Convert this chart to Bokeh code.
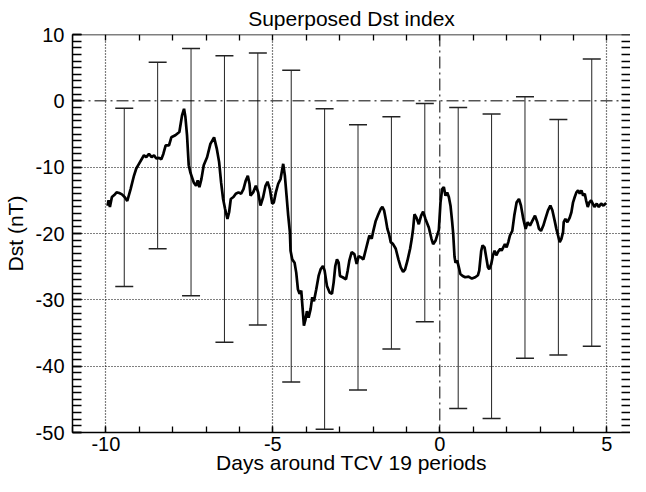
from bokeh.plotting import figure
from bokeh.models import (ColumnDataSource, Whisker, TeeHead, Span, LinearAxis,
                          FixedTicker, Range1d)
from bokeh.embed import file_html
from bokeh.resources import INLINE

# ---- data ----
days = [-9.95, -9.92, -9.88, -9.82, -9.75, -9.68, -9.60, -9.52, -9.44, -9.36,
        -9.26, -9.16, -9.09, -9.01, -8.93, -8.86, -8.79, -8.71, -8.63, -8.56,
        -8.49, -8.41, -8.34, -8.28, -8.21, -8.11, -8.04, -7.92, -7.80, -7.72,
        -7.66, -7.62, -7.57, -7.52, -7.47, -7.37, -7.30, -7.25, -7.20, -7.14,
        -7.07, -6.97, -6.87, -6.76, -6.68, -6.61, -6.55, -6.49, -6.43, -6.36,
        -6.31, -6.26, -6.18, -6.11, -6.03, -5.95, -5.88, -5.81, -5.75, -5.70,
        -5.67, -5.59, -5.51, -5.44, -5.37, -5.29, -5.22, -5.16, -5.09, -5.02,
        -4.97, -4.91, -4.84, -4.77, -4.69, -4.64, -4.59, -4.54, -4.49, -4.47,
        -4.42, -4.35, -4.30, -4.25, -4.20, -4.15, -4.10, -4.07, -4.02, -3.98,
        -3.93, -3.87, -3.82, -3.77, -3.70, -3.63, -3.57, -3.50, -3.45, -3.38,
        -3.30, -3.23, -3.18, -3.13, -3.08, -3.03, -2.99, -2.91, -2.81, -2.76,
        -2.71, -2.64, -2.56, -2.49, -2.43, -2.36, -2.29, -2.21, -2.16, -2.11,
        -2.04, -2.00, -1.92, -1.84, -1.77, -1.72, -1.67, -1.62, -1.57, -1.52,
        -1.47, -1.40, -1.32, -1.24, -1.17, -1.10, -1.04, -0.97, -0.89, -0.84,
        -0.80, -0.76, -0.70, -0.63, -0.56, -0.50, -0.43, -0.33, -0.25, -0.20,
        -0.13, -0.08, -0.03, 0.02, 0.07, 0.12, 0.17, 0.22, 0.27, 0.32,
        0.37, 0.40, 0.44, 0.47, 0.52, 0.57, 0.615, 0.685, 0.76, 0.86,
        0.96, 1.06, 1.14, 1.18, 1.21, 1.24, 1.28, 1.34, 1.39, 1.44,
        1.48, 1.54, 1.59, 1.64, 1.69, 1.74, 1.81, 1.85, 1.90, 1.95,
        2.00, 2.05, 2.10, 2.17, 2.23, 2.30, 2.37, 2.43, 2.50, 2.57,
        2.63, 2.70, 2.77, 2.85, 2.92, 2.97, 3.03, 3.10, 3.16, 3.24,
        3.31, 3.37, 3.44, 3.49, 3.54, 3.59, 3.64, 3.69, 3.71, 3.76,
        3.82, 3.89, 3.94, 3.99, 4.04, 4.09, 4.14, 4.19, 4.24, 4.29,
        4.34, 4.38, 4.43, 4.48, 4.53, 4.58, 4.63, 4.70, 4.76, 4.83,
        4.90, 4.98]
dst = [-15.8, -15.0, -16.0, -14.5, -14.2, -13.8, -13.9, -14.1, -14.5, -15.1,
       -13.3, -11.3, -10.2, -9.5, -8.8, -8.2, -8.5, -8.0, -8.5, -8.2,
       -8.7, -8.6, -8.8, -8.0, -6.7, -6.7, -5.5, -5.2, -4.7, -2.2,
       -1.2, -2.4, -5.2, -9.7, -10.8, -12.3, -12.8, -12.0, -13.0, -11.8,
       -9.7, -8.5, -6.5, -5.5, -7.2, -9.2, -12.3, -14.8, -16.3, -17.8,
       -16.8, -14.8, -14.5, -14.0, -13.8, -14.0, -13.3, -12.0, -11.3, -12.5,
       -14.3, -13.8, -12.8, -13.8, -15.8, -14.5, -12.8, -12.2, -13.3, -15.5,
       -15.3, -13.8, -12.5, -11.8, -9.5, -11.3, -14.3, -17.3, -19.8, -22.6,
       -23.9, -24.4, -25.9, -28.4, -29.1, -28.6, -31.9, -33.9, -32.9, -31.7,
       -32.7, -31.4, -29.6, -30.2, -28.4, -26.4, -25.4, -24.9, -25.6, -27.9,
       -28.9, -29.1, -27.4, -24.9, -23.9, -24.4, -26.4, -26.6, -26.9, -25.6,
       -24.1, -22.8, -23.1, -24.6, -23.4, -23.6, -23.9, -22.3, -21.3, -20.3,
       -20.8, -19.8, -18.1, -17.1, -16.3, -16.0, -16.5, -17.8, -19.3, -20.1,
       -21.3, -21.6, -22.3, -23.9, -25.1, -25.8, -25.4, -24.1, -22.3, -20.8,
       -19.3, -17.1, -17.6, -18.6, -17.3, -16.7, -17.8, -19.1, -20.8, -21.6,
       -21.1, -20.3, -19.5, -15.3, -13.3, -13.0, -14.3, -13.8, -14.5, -15.8,
       -18.3, -20.0, -23.5, -24.4, -24.1, -25.1, -26.1, -26.4, -26.6, -26.5,
       -26.8, -26.6, -26.3, -25.6, -24.1, -22.6, -21.8, -22.1, -23.6, -25.1,
       -25.4, -24.6, -23.3, -22.6, -23.3, -22.8, -22.3, -22.6, -22.1, -21.6,
       -22.1, -21.3, -20.3, -19.6, -17.3, -15.3, -14.8, -15.8, -17.8, -19.3,
       -18.3, -18.8, -18.1, -17.3, -18.3, -19.3, -19.6, -18.8, -17.8, -16.5,
       -15.8, -16.5, -18.1, -19.3, -20.3, -21.3, -20.8, -19.8, -18.3, -17.8,
       -18.3, -17.6, -16.8, -15.3, -14.5, -13.8, -13.5, -14.0, -13.5, -14.3,
       -14.0, -15.0, -16.0, -15.3, -15.0, -15.5, -16.0, -15.5, -16.0, -15.5,
       -15.8, -15.4]

bar_days = [-9.45, -8.45, -7.45, -6.45, -5.45, -4.45, -3.45, -2.45, -1.45,
            -0.45, 0.55, 1.55, 2.55, 3.55, 4.55]
bar_upper = [-1.1, 5.8, 7.9, 6.8, 7.2, 4.6, -1.2, -3.6, -2.4, -0.4, -1.0, -2.0,
             0.6, -2.8, 6.3]
bar_lower = [-28.0, -22.3, -29.4, -36.4, -33.8, -42.4, -49.5, -43.6, -37.4,
             -33.3, -46.4, -47.9, -38.8, -38.3, -37.0]

x_ticks = [-10, -5, 0, 5]
x_tick_labels = ["-10", "-5", "0", "5"]
x_minor = list(range(-11, 6))
y_ticks = [10, 0, -10, -20, -30, -40, -50]
y_tick_labels = ["10", "0", "-10", "-20", "-30", "-40", "-50"]
y_minor = list(range(-50, 11))
x_grid = [-10, -5, 5]
y_grid = [-10, -20, -30, -40]
X_START, X_END = -11, 5.71
Y_START, Y_END = -50, 10

FONT = "Liberation Sans"
TICK_FS = "20px"
LABEL_FS = "21px"

p = figure(width=630, height=476, x_range=Range1d(X_START, X_END),
           y_range=Range1d(Y_START, Y_END),
           output_backend="svg", toolbar_location=None,
           title="Superposed Dst index",
           x_axis_label="Days around TCV 19 periods", y_axis_label="Dst (nT)",
           min_border_left=68, min_border_right=0, min_border_top=33,
           min_border_bottom=40)
p.outline_line_color = None
p.background_fill_color = "white"
p.border_fill_color = "white"

p.title.text_font = FONT
p.title.text_font_size = LABEL_FS
p.title.text_font_style = "normal"
p.title.align = "center"
p.title.text_color = "black"
p.title.standoff = 9


def base_style(ax, tick_len):
    ax.axis_line_color = "black"
    ax.axis_line_width = 1.5
    ax.major_tick_in = tick_len
    ax.major_tick_out = 0
    ax.minor_tick_in = tick_len
    ax.minor_tick_out = 0
    ax.major_tick_line_color = "black"
    ax.minor_tick_line_color = "black"
    ax.major_tick_line_width = 1.3
    ax.minor_tick_line_width = 1.3
    ax.major_label_text_font = FONT
    ax.major_label_text_font_size = TICK_FS
    ax.major_label_text_color = "black"
    ax.axis_label_text_font = FONT
    ax.axis_label_text_font_size = LABEL_FS
    ax.axis_label_text_font_style = "normal"
    ax.axis_label_text_color = "black"


xa = p.xaxis[0]
base_style(xa, 6)
xa.ticker = FixedTicker(ticks=x_ticks, minor_ticks=x_minor)
xa.major_label_overrides = dict(zip(x_ticks, x_tick_labels))
xa.major_label_standoff = 4
xa.axis_label_standoff = -3

ya = p.yaxis[0]
base_style(ya, 9)
ya.ticker = FixedTicker(ticks=y_ticks, minor_ticks=y_minor)
ya.major_label_overrides = dict(zip(y_ticks, y_tick_labels))
ya.major_label_standoff = 8
ya.axis_label_standoff = 6

top = LinearAxis(ticker=FixedTicker(ticks=[], minor_ticks=x_minor),
                 fixed_location=Y_END)
base_style(top, 6)
top.major_label_standoff = 0
p.add_layout(top, "above")

right = LinearAxis(ticker=FixedTicker(ticks=[], minor_ticks=y_minor),
                   fixed_location=X_END)
base_style(right, 9)
right.axis_line_color = None
right.major_label_standoff = 0
p.add_layout(right, "right")

p.xgrid.ticker = FixedTicker(ticks=x_grid)
p.ygrid.ticker = FixedTicker(ticks=y_grid)
for g in (p.xgrid, p.ygrid):
    g.grid_line_color = "black"
    g.grid_line_dash = "1 2"
    g.grid_line_width = 1.2

p.add_layout(Span(location=0, dimension="width", line_color="black",
                  line_width=1, line_dash="12 4 2 4"))
p.add_layout(Span(location=0, dimension="height", line_color="black",
                  line_width=1, line_dash="12 4 2 4"))

wsrc = ColumnDataSource(dict(base=bar_days, upper=bar_upper, lower=bar_lower))
whisk = Whisker(base="base", upper="upper", lower="lower", source=wsrc,
                dimension="height", line_color="#222222", line_width=1,
                upper_head=TeeHead(size=18, line_width=1.5, line_color="#222222"),
                lower_head=TeeHead(size=18, line_width=1.5, line_color="#222222"))
p.add_layout(whisk)

src = ColumnDataSource(dict(days=days, dst=dst))
p.line("days", "dst", source=src, line_color="black", line_width=2.7)

open("out.html", "w").write(file_html(p, INLINE))
